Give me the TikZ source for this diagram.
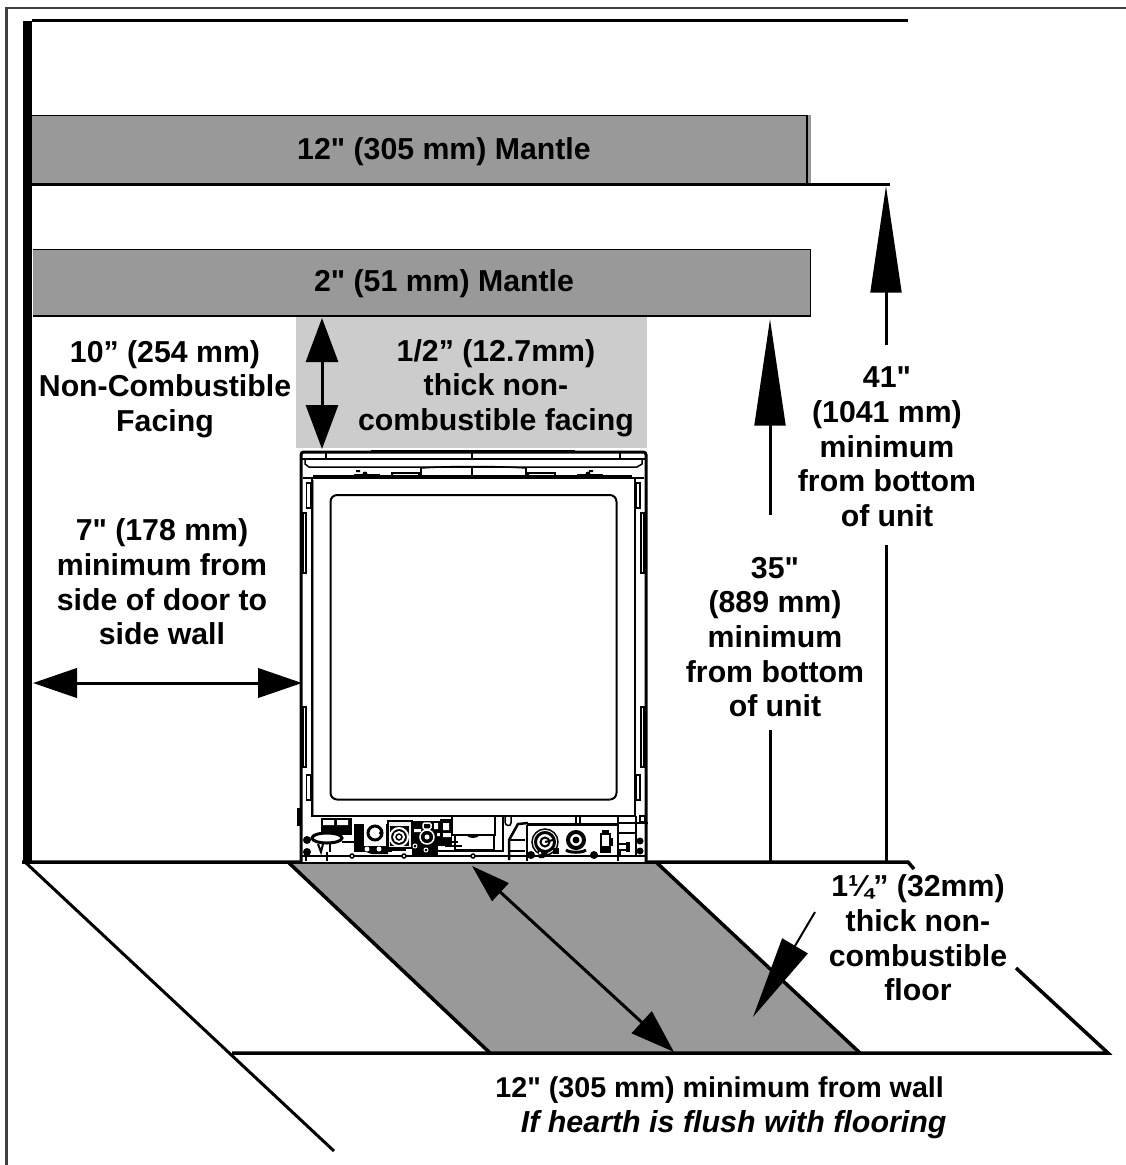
\documentclass[tikz,border=0pt]{standalone}
\usepackage{fontspec}
\setmainfont{Liberation Sans}[Ligatures=TeXOff]
\usetikzlibrary{arrows.meta}
\definecolor{mantlegray}{HTML}{999999}
\definecolor{facinggray}{HTML}{CCCCCC}
\definecolor{framegray}{HTML}{404040}
\tikzset{
  px/.style={line width=#1*0.75pt},
  lbl/.style={font=\fontsize{22.7}{26}\selectfont\bfseries,align=center,inner sep=0pt,text=black},
  dimline/.style={px=3,draw=black,line cap=butt},
  bighead/.style={-{Triangle[length=80pt,width=23pt,sep=0pt]}},
  bighead2/.style={-{Triangle[length=80pt,width=23pt,sep=0pt]}},
  dbl/.style={{Triangle[length=33pt,width=24pt,sep=0pt]}-{Triangle[length=33pt,width=24pt,sep=0pt]}},
  dblh/.style={{Triangle[length=33pt,width=22pt,sep=0pt]}-{Triangle[length=33pt,width=22pt,sep=0pt]}},
  diag/.style={{Triangle[length=29pt,width=18pt,sep=0pt]}-{Triangle[length=33pt,width=22pt,sep=0pt]}},
  pointer/.style={-{Triangle[length=62pt,width=22pt,sep=0pt]}},
  unit/.style={draw=black,px=3},
  thin1/.style={draw=black,px=1.5},
  thin2/.style={draw=black,px=2},
}
\begin{document}
\begin{tikzpicture}[x=0.75pt,y=-0.75pt]
\useasboundingbox (0,0) rectangle (1126,1165);
% frame
\draw[framegray,px=2.5] (1126,8) -- (6.5,8) -- (6.5,1165);
% wall and ceiling
\fill[black] (23,21) rectangle (32,862);
\draw[black,px=3] (32,20.5) -- (908,20.5);
% mantles
\fill[mantlegray] (32,115) rectangle (811,184);
\draw[black,px=1.5] (32,115.5) -- (806.5,115.5);
\draw[black,px=2] (806.5,115) -- (806.5,184);
\draw[black,px=3] (32,184) -- (890,184);
\fill[mantlegray] (33,249) rectangle (811,316);
\draw[black,px=1.5] (33,249.5) -- (810.5,249.5) -- (810.5,316);
\draw[black,px=2.5] (33,316) -- (811,316);
% facing
\fill[facinggray] (296,317) rectangle (647,448);
% hearth
\fill[mantlegray] (288,862) -- (656,862) -- (860,1053) -- (490,1053) -- cycle;
\draw[black,px=3.5] (288,862) -- (490,1053);
\draw[black,px=3.5] (656,862) -- (860,1053);
% floor
\draw[black,px=3.5] (22,862) -- (908,862) -- (914,869);
\draw[black,px=3] (25,862) -- (334,1151);
\draw[black,px=3.5] (232,1053) -- (1108,1053) -- (1016,968);
% unit body
\fill[white] (301,452) rectangle (647,862);
\draw[unit,rounded corners=2] (301,862) -- (301,452) -- (646,452) -- (646,862);
\draw[thin2] (301,459) -- (646,459);
\draw[thin1] (305,459) -- (305,464) -- (309,467) -- (637,467) -- (642,464) -- (642,459);
\fill[black] (371,450) rectangle (575,452);
\foreach \tx in {326,472,620}{\draw[thin2] (\tx,452) -- (\tx,459);}
\draw[thin2] (472,467) -- (472,478);
\draw[thin1] (303,478) -- (311,478) (636,478) -- (644,478);
\draw[thin1] (421,478) -- (421,468) (526,478) -- (526,468);
\draw[thin1] (421,468) .. controls (450,466) and (495,466) .. (526,468);
\foreach \rx/\rw in {392/27,528/27}{\draw[thin2] (\rx,477) -- (\rx,473) -- (\rx+\rw,473) -- (\rx+\rw,477);}
\foreach \rx in {355,578}{\draw[thin2] (\rx,478) -- (\rx,475) -- (\rx+24,475) -- (\rx+24,478);\fill[black] (\rx+10,474) circle[radius=2.5];}
\fill[black] (356,470) rectangle (360,472) (589,470) rectangle (593,472);
\draw[thin1] (313,476) -- (632,476);
% door and glass
\draw[thin2,draw=black] (311.5,478) -- (311.5,816) -- (634.5,816) -- (634.5,478) -- cycle;
\draw[draw=black!45,px=1] (313.5,480) -- (313.5,815);
\draw[thin2,rounded corners=5] (330.5,495) rectangle (616.5,799.5);
% side brackets
\foreach \ax/\ay/\bx/\by in {306.5/483/310.5/508, 303/513/306/573, 303/707/306/767, 306.5/775/311/800, 636/483/640/508, 641/513/644/573, 641/707/644/767, 636/775/640/800}{
  \draw[thin1] (\ax,\ay) rectangle (\bx,\by);
}
% control section
\fill[black] (297,808) rectangle (301,826);
\draw[thin2] (301,856) -- (646,856);
\foreach \cx in {352,404,473}{\draw[thin1,fill=white] (\cx,856) circle[radius=2];}
\foreach \cx in {306,327}{\draw[thin2] (\cx,852) -- (\cx,861);}
\fill[black] (307,840) circle[radius=4] (307,852) circle[radius=4];
\fill[black] (321,818) rectangle (352,835);
\fill[white] (323,820) rectangle (334,825) (337,820) rectangle (348,825);
\draw[black,px=3,fill=white] (327,838) ellipse[x radius=15,y radius=5];
\draw[thin2] (318,844) -- (321,852) -- (323,844);
\draw[thin2] (330,844) -- (330,852);
\draw[thin2] (345,832) -- (352,832) (342,842) -- (355,842);
% first valve
\fill[black] (354,824) rectangle (392,852);
\fill[black] (358,826) .. controls (350,838) and (356,850) .. (372,854) -- (388,854) -- (388,826) -- cycle;
\fill[white] (364,824) rectangle (386,846);
\draw[black,px=3,fill=white] (375,833) circle[radius=7];
\fill[black] (381,833) circle[radius=2];
\fill[white] (367,849) circle[radius=2.5] (379,849) circle[radius=2.5];
% second valve
\fill[facinggray!30] (388,821) rectangle (412,848);
\draw[thin2] (388,821) rectangle (412,848);
\fill[black] (390,826) rectangle (409,846);
\draw[px=2,draw=white,fill=black] (399,837) circle[radius=9];
\draw[px=2,draw=white,fill=black] (399,837) circle[radius=5];
\fill[white] (399,837) circle[radius=2];
\fill[black] (392,847) rectangle (406,851);
% third block
\fill[black] (412,821) rectangle (438,856);
\fill[black] (438,821) rectangle (443,846);
\draw[draw=white,px=1.5] (427,837) circle[radius=7];
\fill[white] (427,837) circle[radius=2.5];
\draw[draw=white,px=1.5,rounded corners=1] (423,823) rectangle (431,829);
\draw[draw=white,px=1] (415,846) circle[radius=2] (426,850) circle[radius=2];
\fill[white] (434,823) rectangle (438,829) (437,833) rectangle (443,836) (414,829) rectangle (421,832);
\fill[black] (440,819) rectangle (452,846);
\fill[white] (443,823) rectangle (449,830) (443,833) rectangle (451,837);
\draw[thin2,black] (438,851) -- (503,851) -- (503,816);
\draw[thin2] (452,816) -- (452,835) -- (495,835) -- (495,816);
\draw[thin1] (455,835) -- (455,850) -- (494,850) -- (494,835);
\draw[thin2] (448,842) -- (458,842) (445,846) -- (462,846);
\fill[black] (466,835) .. controls (469,839) and (477,839) .. (480,835) -- cycle;
\draw[thin1] (505,816) -- (505,822) .. controls (505,826) and (511,827) .. (511,823) -- (511,816);
\draw[px=2.5,draw=black] (528,823) -- (518,824) -- (509,840) -- (509,860);
\draw[thin1] (510,840) -- (525,840) (510,851) -- (525,851);
% right panel
\draw[thin2] (527,861) -- (527,825);
\draw[px=3,draw=black] (527,824) -- (618,824);
\draw[thin2] (618,816) -- (618,861);
\draw[thin1] (576,816) -- (576,824) (580,816) -- (580,824);
\fill[black] (531,855) circle[radius=4] (594,855) circle[radius=4];
\draw[thin1] (545,842) circle[radius=13];
\draw[px=3,draw=black] (545,842) circle[radius=9.5];
\draw[thin2] (545,842) circle[radius=4.5];
\draw[thin2] (545,842) -- (553,840);
\fill[black] (537,846) -- (541,849) -- (548,852) -- (544,858) -- (539,858) -- cycle;
\fill[white] (540,853) circle[radius=1.5];
\fill[black] (553,848) rectangle (559,854);
\draw[px=4,draw=black] (576,840) circle[radius=8];
\fill[black] (576,840) circle[radius=3.5];
\draw[px=3,draw=black] (566,850) .. controls (570,853) and (582,853) .. (586,850);
\fill[black] (602,830) rectangle (609,835);
\draw[thin2] (601,834) rectangle (610,852);
\fill[black] (601,846) rectangle (610,852);
\fill[black] (610,838) rectangle (613,846);
\draw[thin1] (618,823) -- (648,823);
\draw[thin1] (618,833) -- (636,833) (618,844) -- (630,844) (618,850) -- (630,850);
\draw[thin1] (636,816) -- (636,856) (620,850) -- (620,856);
\fill[black] (640,841) circle[radius=3.5] (640,851) circle[radius=3.5];
\fill[black] (626,842) rectangle (630,852);
\draw[thin1] (640,816) rectangle (645,822);
% coordinates for dimension lines
\coordinate (m2tip) at (770,319);
\coordinate (m2tail) at (770,515);
\coordinate (m2foot) at (770,730);
\coordinate (m1tip) at (886,186);
\coordinate (m1tail) at (886,345);
\coordinate (m1foot) at (886,545);
\coordinate (fa) at (322,318);
\coordinate (fb) at (322,449);
\coordinate (wa) at (33,683);
\coordinate (wb) at (302,683);
\coordinate (ha) at (472,866);
\coordinate (hb) at (674,1052);
\coordinate (pa) at (815,912);
\coordinate (pb) at (753,1017);
\coordinate (fl1) at (770,862);
\coordinate (fl2) at (886,862);
% dimension lines
\draw[dimline,bighead] (m2tail) -- (m2tip);
\draw[dimline] (m2foot) -- (fl1);
\draw[dimline,bighead2] (m1tail) -- (m1tip);
\draw[dimline] (m1foot) -- (fl2);
\draw[dimline,dbl] (fa) -- (fb);
\draw[dimline,dblh] (wa) -- (wb);
\draw[dimline,diag] (ha) -- (hb);
\draw[draw=black,px=2,pointer] (pa) -- (pb);
% labels
\node[lbl] (m12) at (444,152) {12" (305 mm) Mantle};
\node[lbl] (m2) at (444,284) {2" (51 mm) Mantle};
\node[lbl] (nc) at (165,389) {10” (254 mm)\\Non-Combustible\\Facing};
\node[lbl] (thick) at (496,388) {1/2” (12.7mm)\\thick non-\\combustible facing};
\node[lbl] (side) at (162,582) {7" (178 mm)\\minimum from\\side of door to\\side wall};
\node[lbl] (t35) at (775,637) {35"\\(889 mm)\\minimum\\from bottom\\of unit};
\node[lbl] (t41) at (887,447) {41"\\(1041 mm)\\minimum\\from bottom\\of unit};
\node[lbl] (flr) at (918,938) {1¼” (32mm)\\thick non-\\combustible\\floor};
\node[lbl,anchor=center] (min) at (729,1108) {\fontsize{21.5}{26.2}\selectfont\hspace*{-14pt}12" (305 mm) minimum from wall\\\fontsize{22.8}{26.2}\selectfont\hspace*{7pt}\textit{If hearth is flush with flooring}};
\end{tikzpicture}
\end{document}
